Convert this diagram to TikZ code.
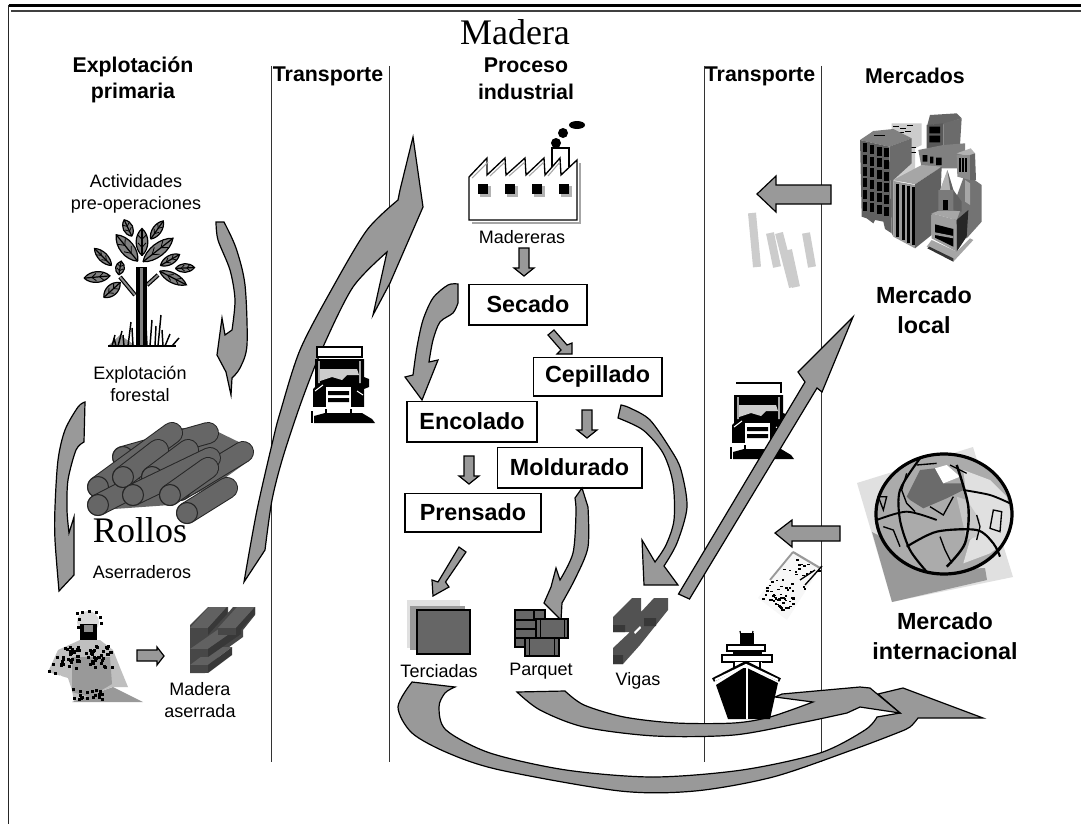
\documentclass[tikz,border=0pt]{standalone}
\usepackage{fontspec}
\setmainfont{Liberation Sans}
\newfontfamily\serifface{Liberation Serif}
\definecolor{arrowgray}{HTML}{999999}
\definecolor{logc}{HTML}{666666}
\tikzset{
  blk/.style={draw=black,fill=arrowgray,line width=0.9pt,line join=miter},
  head/.style={font=\fontsize{16}{20}\selectfont\bfseries,inner sep=0,align=center},
  big/.style={font=\fontsize{17.5}{22}\selectfont\bfseries,inner sep=0,align=center},
  lab/.style={font=\fontsize{13.5}{16.5}\selectfont,inner sep=0,align=center},
  stepbox/.style={draw=black,line width=1pt,fill=white,font=\fontsize{17.5}{21}\selectfont\bfseries,inner sep=0,minimum height=0},
  serifbig/.style={font=\fontsize{27}{30}\serifface\selectfont,inner sep=0},
  rule/.style={draw=black!80,line width=1.1pt}
}
\newcommand\blockdown[2]{\draw[blk] (#1-5,#2-28) -- (#1+5,#2-28) -- (#1+5,#2-8) -- (#1+10,#2-8) -- (#1,#2) -- (#1-10,#2-8) -- (#1-5,#2-8) -- cycle;}
\newcommand\woodlog[4]{%
  \draw[line width=16.5pt,black!85,line cap=round] (#1,#2)--(#3,#4);
  \draw[line width=15pt,logc,line cap=round] (#1,#2)--(#3,#4);
  \draw[black!85,fill=logc,line width=.8pt] (#1,#2) circle[radius=10.5];}
\newcommand\woodbeam[6]{%
  \fill[black!62] (#1,#2) -- (#1+#5,#2-#6) -- (#1+#5+#3,#2-#6) -- (#1+#3,#2) -- cycle;
  \fill[black!72] (#1,#2) rectangle (#1+#3,#2+#4);
  \fill[black!78] (#1+#3,#2) -- (#1+#3+#5,#2-#6) -- (#1+#3+#5,#2-#6+#4) -- (#1+#3,#2+#4) -- cycle;}
\newcommand\treeleaf[5]{%
  \begin{scope}[shift={(#1,#2)},rotate=#3]
  \draw[black,fill=black!50,line width=.9pt] (-#4/2,0) .. controls (-#4/4,-#5*0.65) and (#4/4,-#5*0.65) .. (#4/2,0) .. controls (#4/4,#5*0.65) and (-#4/4,#5*0.65) .. (-#4/2,0);
  \draw[black,line width=.9pt] (-#4/2,0) -- (#4/2,0);
  \draw[black,line width=.6pt] (-#4/5,0) -- (-#4/30,-#5/3) (-#4/5,0) -- (-#4/30,#5/3) (#4/10,0) -- (#4/4,-#5/3) (#4/10,0) -- (#4/4,#5/3);
  \end{scope}}
\newcommand\lorry[2]{%
  \begin{scope}[shift={(#1,#2)}]
  \fill[black] (-2,12) -- (47,12) -- (47,30) -- (52,32) -- (52,40) -- (47,42) -- (47,60) -- (-4,60) -- (-4,42) -- (-2,40) -- cycle;
  \fill[white!80!black] (3,22) -- (40,22) -- (42,28) -- (30,28) -- (25,33) -- (15,30) -- (3,34) -- cycle;
  \draw[white,line width=.8pt] (2,14) -- (2,36) (43,14) -- (43,36) (-2,44) -- (6,38) (40,44) -- (46,48);
  \fill[white] (9,40) rectangle (34,60);
  \fill[black] (11,44) rectangle (32,48) (11,51) rectangle (32,55);
  \fill[white] (-6,60) rectangle (55,67);
  \fill[black] (-3,69) -- (8,66) -- (45,66) -- (55,72) -- (58,76) -- (-3,76) -- cycle;
  \draw[black,line width=.8pt] (-5,64) -- (-5,76) (9,62) -- (9,68) (34,62) -- (34,68);
  \end{scope}}
\begin{document}
\begin{tikzpicture}[x=0.75pt,y=-0.75pt]
\useasboundingbox (0,0) rectangle (1081,824);
\fill[white] (0,0) rectangle (1081,824);
\pgfmathsetseed{11}
% frame
\draw[black,line width=1.6pt] (8.5,5.5) -- (1081,5.5);
\draw[black!75,line width=1.6pt] (11,11) -- (1081,11);
\draw[black!85,line width=1.3pt] (8.5,5) -- (8.5,824);
% column rules
\draw[rule] (271.5,66) -- (271.5,762);
\draw[rule] (389.5,66) -- (389.5,762);
\draw[rule] (704.5,66) -- (704.5,762);
\draw[rule] (821.5,66) -- (821.5,762);
% headings
\node[serifbig] (title) at (515,32) {Madera};
\node[head] (hExp) at (133,80) {Explotación\\primaria};
\node[head] (hT1) at (328,76) {Transporte};
\node[head] (hPro) at (526,79) {Proceso\\industrial};
\node[head] (hT2) at (760,76) {Transporte};
\node[head] (hMer) at (915,76) {Mercados};
\node[lab] (lAct) at (136,194) {Actividades\\pre-operaciones};
\node[lab] (lFor) at (140,384) {Explotación\\forestal};
\node[lab] (lAse) at (142,572) {Aserraderos};
\node[lab] (lMad) at (200,700) {Madera\\aserrada};
\node[lab] (lMar) at (522,237) {Madereras};
\node[lab] (lTer) at (439,671) {Terciadas};
\node[lab] (lPar) at (541,671) {Parquet};
\node[lab] (lVig) at (638,681) {Vigas};
\node[big] (mLoc) at (924,310) {Mercado\\local};
\node[big] (mInt) at (945,636) {Mercado\\internacional};
% tree
\draw[black,line width=3.2pt] (120,277) -- (135,295) (147,285) -- (158,275);
\draw[black!45,line width=1.4pt] (120,277) -- (135,295) (147,285) -- (158,275);
\fill[black] (136,267) rectangle (147,346);
\fill[black!50] (140,268) rectangle (143,345);
\foreach \a/\b/\c/\d/\e in {128/228/115/18/10,157/230/55/22/9,103/257/135/24/9,120/268/80/14/9,97/277/5/26/11,112/290/42/22/11,170/260/30/22/9,185/268/3/19/9,173/278/-27/30/10,142/242/90/27/12,127/248/129/34/14,158/250/38/38/13}
  {\treeleaf{\a}{\b}{\c}{\d}{\e}}
\fill[arrowgray] (108,346) -- (120,335) -- (136,346) -- (150,346) -- (173,346) -- cycle;
\draw[black,line width=1.2pt] (108,346) -- (176,346);
\foreach \a/\b/\c/\d in {112/346/115/335,116/346/114/338,118/346/122/331,124/346/123/335,128/346/131/322,133/346/132/328,150/346/152/320,155/346/156/326,158/346/161/315,163/346/162/330,165/346/170/334,172/346/179/338,147/346/146/325}
  {\draw[black,line width=1.1pt] (\a,\b) -- (\c,\d);}
% left-hand arrows
\draw[blk] (216,222) -- (224,222) -- plot[smooth] coordinates {(224,222) (236,248) (245,285) (247,345) (240,368) (232,378)} -- (231,395) -- (226,372) -- (217,355) -- (222,318) -- (225,335) -- (232,330) -- plot[smooth] coordinates {(232,330) (235,300) (230,270) (218,240) (216,222)} -- cycle;
\draw[blk] (85,402) -- (84,442) -- plot[smooth] coordinates {(84,442) (76,450) (68,480) (67,510) (69,533)} -- (74,517) -- (74,575) -- (59,591) -- plot[smooth] coordinates {(59,591) (55,540) (55,507) (58,460) (65,430) (78,407) (85,402)} -- cycle;
% logs
\fill[logc] (100,480) -- (170,428) -- (210,428) -- (245,445) -- (250,460) -- (215,485) -- (170,505) -- (100,510) -- cycle;
\woodlog{123}{457}{208}{433}
\woodlog{98}{487}{172}{433}
\woodlog{180}{490}{243}{452}
\woodlog{98}{505}{133}{487}
\woodlog{123}{477}{158}{450}
\woodlog{152}{477}{188}{450}
\woodlog{133}{495}{210}{458}
\woodlog{170}{495}{208}{468}
\woodlog{187}{513}{227}{488}
\node[serifbig] (lRol) at (140,530) {Rollos};
% big transport arrow
\draw[blk] (244,582) -- (265,550) -- plot[smooth] coordinates {(265,550) (272,500) (283,457) (302,400) (323,347) (353,287) (387,252)} -- (373,315) -- (390,283) -- (423,207) -- (413,137) -- (400,190) -- (398,200) -- plot[smooth] coordinates {(398,200) (367,230) (333,287) (300,350) (280,413) (273,440) (257,510) (244,582)} -- cycle;
\lorry{317}{347}
\draw[black,fill=white,line width=.9pt] (317,347) rectangle (362,357);
% worker
\fill[black!25] (80,640) -- (100,640) -- (113,650) -- (121,670) -- (128,687) -- (112,687) -- (74,702) -- (72,690) -- (68,678) -- (48,672) -- (58,650) -- cycle;
\fill[white] (60,675) -- (66,680) -- (72,698) -- cycle;
\fill[arrowgray] (72,702) -- (113,687) -- (143,702) -- cycle;
\fill[arrowgray] (72,657) -- (110,657) -- (112,684) -- (90,697) -- (72,692) -- cycle;
\fill[black!15] (88,622) circle[radius=11];
\fill[black] (80,624) rectangle (97,640);
\fill[black!45] (84,625) rectangle (93,632);
\foreach \i in {1,...,70} {\pgfmathsetmacro\ax{60+rnd*52}\pgfmathsetmacro\ay{645+rnd*22}\fill[black] (\ax,\ay) rectangle ++(3,3);}
\foreach \i in {1,...,18} {\pgfmathsetmacro\ax{72+rnd*36}\pgfmathsetmacro\ay{688+rnd*12}\fill[black] (\ax,\ay) rectangle ++(3,3);}
\foreach \a/\b in {48/670,52/663,56/656,54/672,76/612,81/611,88/610,95/611,99/616,78/618,100/622,77/626}
 {\fill[black] (\a,\b) rectangle ++(3,3);}
\draw[blk] (137,650) -- (157,650) -- (157,647) -- (164,656) -- (157,665) -- (157,661) -- (137,661) -- cycle;
% sawn timber
\fill[black!72] (190,625) -- (208,607) -- (228,607) -- (228,613) -- (233,607) -- (255,607) -- (255,615) -- (243,630) -- (243,637) -- (225,650) -- (215,660) -- (205,673) -- (190,673) -- cycle;
\woodbeam{190}{665}{18}{8}{24}{18}
\woodbeam{190}{649}{18}{8}{33}{23}
\woodbeam{190}{628}{18}{7}{19}{21}
\woodbeam{218}{628}{18}{7}{19}{21}
% factory
\begin{scope}[shift={(3,3)}]
\draw[black!35,line width=1.2pt] (577,160) -- (577,220) -- (469,220);
\end{scope}
\draw[black,line width=1pt,fill=white] (552,172) -- (552,148) -- (569,148) -- (569,167);
\draw[black,line width=1pt,fill=white] (469,220) -- (469,177) -- (487,158) -- (487,175) -- (505,158) -- (506,175) -- (525,158) -- (526,175) -- (544,158) -- (545,175) -- (560,158) -- (561,175) -- (577,160) -- (577,220) -- cycle;
\draw[black!35,line width=.8pt] (472,178) -- (488,162) (490,176) -- (505,162) (509,176) -- (525,162) (529,176) -- (544,162) (548,176) -- (560,162);
\foreach \x in {483,510,537,564} {\fill[black!30] (\x-3,186) rectangle (\x+8,197); \fill[black] (\x-5,184) rectangle (\x+5,194);}
\fill[black] (556,143) circle[radius=5] (563,133) circle[radius=5];
\fill[black] (577,125) ellipse[x radius=8,y radius=4];
\blockdown{524}{276}
% process boxes
\node[stepbox,minimum width=88.5pt,minimum height=30.5pt] (secado) at (528,304.5) {Secado};
\node[stepbox,minimum width=96.5pt,minimum height=29pt] (cepillado) at (597.5,376.5) {Cepillado};
\node[stepbox,minimum width=97.5pt,minimum height=30.5pt] (encolado) at (472,421.5) {Encolado};
\node[stepbox,minimum width=108.5pt,minimum height=30.5pt] (moldurado) at (569.5,467.5) {Moldurado};
\node[stepbox,minimum width=102pt,minimum height=29pt] (prensado) at (473,512.5) {Prensado};
% process arrows
\draw[blk] (548,335) -- (554,330) -- (567,345) -- (572,343) -- (572,354) -- (557,354) -- (561,350) -- cycle;
\draw[blk] (458,284) -- (458,303) -- plot[smooth] coordinates {(458,303) (453,313) (440,322) (433,340) (429,362)} -- (438,360) -- (422,400) -- (405,377) -- (413,375) -- plot[smooth] coordinates {(413,375) (417,347) (423,320) (433,298) (448,285) (458,284)} -- cycle;
\blockdown{587}{438}
\blockdown{469}{484}
\draw[blk] (621,405) -- (618,418) -- plot[smooth] coordinates {(618,418) (643,430) (663,453) (673,483) (674,520) (666,545) (655,562)} -- (642,540) -- (644,585) -- (678,585) -- (664,566) -- plot[smooth] coordinates {(664,566) (677,543) (687,507) (681,470) (671,450) (650,420) (630,408) (621,405)} -- cycle;
\draw[blk] (582,488) -- (588,507) -- plot[smooth] coordinates {(588,507) (588,547) (576,577) (562,603)} -- (561,620) -- (544,603) -- (551,587) -- (556,568) -- (560,580) -- plot[smooth] coordinates {(560,580) (573,553) (576,513) (575,498)} -- cycle;
\draw[blk] (459,547) -- (466,552) -- (445.5,582) -- (449,587) -- (433,596) -- (432,580) -- (438,582) -- cycle;
% product icons
\fill[black!12] (407,600) rectangle (460,648);
\fill[black!40] (410,606) rectangle (465,650);
\draw[black,fill=logc,line width=1pt] (417,610) rectangle (470,654);
\draw[black,fill=logc,line width=1pt] (515,610) rectangle (545,647);
\draw[black,line width=.8pt] (515,620) -- (545,620) (515,629) -- (536,629) (515,638) -- (525,638) (534,610) -- (534,620);
\draw[black,fill=logc,line width=1pt] (536,619) rectangle (568,638);
\draw[black,line width=.7pt] (564,619) -- (564,638) (540,619) -- (540,638);
\draw[black,fill=logc,line width=1pt] (525,638) rectangle (559,656);
\draw[black,line width=.7pt] (529,638) -- (529,656) (554,638) -- (554,656);
% beams
\fill[black!68] (613,617) -- (632,598) -- (641,598) -- (641,612) -- (654,598) -- (668,598) -- (668,610) -- (656,625) -- (640,645) -- (623,664) -- (613,664) -- (613,648) -- (630,632) -- (613,632) -- cycle;
\fill[black!78] (613,625) rectangle (625,632) (613,655) rectangle (623,664) (644,618) rectangle (656,626);
\fill[white] (634,632) -- (640,626) -- (641,628) -- (635,634) -- cycle;
% faded trucks near local market
\draw[black!20,line width=6pt] (752,213) -- (757,267) (770,233) -- (777,267) (779,233) -- (793,287) (788,250) -- (796,287) (806,233) -- (812,267);
% truck to local market
\lorry{736}{383}
\draw[black,line width=.9pt] (736,383) -- (781,383) -- (781,393);
\draw[blk] (853,317) -- (822,392) -- (817,388) -- (689.5,599) -- (678.5,594) -- (805,382) -- (798,372) -- cycle;
\draw[blk] (757,194) -- (776,176) -- (776,185) -- (831,185) -- (831,204) -- (776,204) -- (776,212) -- cycle;
\draw[blk] (775,533) -- (792,520) -- (792,526) -- (840,526) -- (840,541) -- (792,541) -- (792,547) -- cycle;
% buildings
\begin{scope}[shift={(850,105)},x=0.25pt,y=-0.25pt]
\fill[black!20] (125,55) -- (215,55) -- (215,120) -- (195,130) -- (195,230) -- (125,230) -- cycle;
\foreach \a/\b in {130/62,150/68,170/60,145/80,180/125,180/140,165/78} {\fill[black] (\a,\b) rectangle ++(18,4);}
\fill[black!60] (240,30) -- (320,25) -- (335,40) -- (280,58) -- (232,60) -- cycle;
\fill[black!65] (230,60) -- (280,55) -- (280,125) -- (230,130) -- cycle;
\fill[black] (238,65) rectangle (270,85) (238,92) rectangle (270,112);
\fill[black!58] (280,55) -- (335,40) -- (330,120) -- (280,155) -- cycle;
\fill[black!50] (205,135) -- (280,120) -- (345,115) -- (345,190) -- (215,190) -- cycle;
\fill[black] (218,150) rectangle (232,170) (240,155) rectangle (250,175) (258,158) rectangle (275,180);
% right mass
\fill[black!55] (345,205) -- (395,240) -- (395,350) -- (350,400) -- (300,330) -- cycle;
\fill[black!35] (345,225) -- (360,235) -- (360,300) -- (345,290) -- cycle;
\fill[black!30] (320,145) -- (362,130) -- (375,145) -- (360,155) -- cycle;
\fill[black!45] (320,150) -- (360,150) -- (360,225) -- (322,215) -- cycle;
\fill[black!60] (360,150) -- (375,145) -- (378,225) -- (360,225) -- cycle;
\foreach \x in {326,336,346} {\fill[black] (\x,158) rectangle (\x+6,200);}
% left tower
\fill[black!50] (30,105) -- (70,78) -- (130,72) -- (185,100) -- (118,125) -- cycle;
\fill[black] (72,90) rectangle (105,94);
\fill[black!62] (30,105) -- (118,125) -- (125,385) -- (105,372) -- (100,350) -- (75,345) -- (70,355) -- (50,340) -- (35,335) -- cycle;
\fill[black!58] (118,125) -- (185,100) -- (185,175) -- (130,225) -- (130,395) -- (125,385) -- cycle;
\foreach \x/\s in {38/0,60/5,82/10,103/15} \foreach \y in {115,150,185,220,255,290} {\fill[black] (\x,\y+\s) rectangle (\x+13,\y+\s+27);}
% centre block
\fill[black!35] (130,225) -- (215,180) -- (275,185) -- (195,238) -- cycle;
\fill[black!40] (130,228) -- (195,240) -- (195,430) -- (130,395) -- cycle;
\fill[black!62] (195,238) -- (275,185) -- (270,315) -- (245,330) -- (245,390) -- (195,430) -- cycle;
\foreach \x/\t/\b in {137/237/395,155/240/405,172/243/413,186/245/420} {\fill[black] (\x,\t) rectangle (\x+9,\b);}
% church
\fill[black!35] (230,425) -- (245,405) -- (320,440) -- (360,400) -- (370,405) -- (310,470) -- cycle;
\fill[black!80] (232,430) -- (310,470) -- (310,460) -- (238,425) -- cycle;
\fill[black!30] (292,195) -- (270,255) -- (310,255) -- cycle;
\fill[black!62] (292,195) -- (310,255) -- (335,290) -- (335,320) -- (310,315) -- cycle;
\fill[black!52] (265,255) -- (310,255) -- (310,320) -- (265,322) -- cycle;
\fill[black] (280,285) rectangle (295,315);
\fill[black!35] (245,325) -- (265,318) -- (330,318) -- (320,345) -- cycle;
\fill[black!38] (245,325) -- (320,345) -- (320,440) -- (245,400) -- cycle;
\fill[black] (255,358) -- (310,372) -- (310,425) -- (255,398) -- cycle;
\fill[black!40] (255,382) -- (310,393) -- (310,400) -- (255,390) -- cycle;
\fill[black!85] (320,345) -- (355,315) -- (350,395) -- (320,440) -- cycle;
\end{scope}
% globe
\fill[black!12] (857,483) -- (973,447) -- (1013,577) -- (892,602) -- cycle;
\fill[black!40] (872,532) -- (945,570) -- (985,568) -- (987,580) -- (892,602) -- cycle;
\begin{scope}[shift={(750,440)},x=0.25pt,y=-0.25pt]
\fill[black!33] (582,222) ellipse[x radius=207,y radius=183];
\fill[black!12] (640,90) -- (720,120) -- (770,170) -- (790,250) -- (760,310) -- (720,340) -- (640,370) -- (660,300) -- (680,280) -- (650,180) -- cycle;
\fill[black!22] (620,170) -- (650,180) -- (690,240) -- (680,290) -- (650,300) -- cycle;
\fill[black!58] (470,170) -- (510,90) -- (555,85) -- (580,130) -- (640,130) -- (640,150) -- (590,175) -- (520,205) -- (480,180) -- cycle;
\fill[white] (555,85) -- (590,75) -- (630,110) -- (580,130) -- cycle;
\draw[black,line width=2.4pt] (582,222) ellipse[x radius=204,y radius=180];
\draw[black,line width=1.6pt] plot[smooth] coordinates {(510,55) (450,150) (450,240) (480,330) (530,395)};
\draw[black,line width=1.8pt] plot[smooth] coordinates {(620,75) (655,200) (645,310) (590,380)};
\draw[black,line width=1.4pt] plot[smooth] coordinates {(380,240) (470,215) (560,240)};
\draw[black,line width=1.6pt] plot[smooth] coordinates {(470,320) (560,275) (680,270) (730,310) (750,350)};
\draw[black,line width=1.4pt] plot[smooth] coordinates {(640,150) (720,165) (780,190)};
\draw[black,line width=1pt] (385,170) -- (410,170) -- (400,210) -- cycle (400,260) -- (430,270) -- (450,320) (570,290) -- (585,330) -- (605,370) (680,225) -- (690,260) -- (680,300) (730,210) -- (755,215) -- (750,275) -- (720,265) -- cycle (540,200) -- (580,225) -- (610,170) (470,100) -- (455,150) -- (470,190) -- (495,215) (500,75) -- (560,70) (600,75) -- (650,100) (590,270) -- (640,268);
\end{scope}
% document
\fill[black!3] (793,552) -- (820,568) -- (787,620) -- (758,598) -- cycle;
\draw[black!40,line width=1.6pt] (793,552) -- (820,568);
\draw[black!40,line width=1.4pt] (793,552) -- (770,580);
\foreach \i in {1,...,36} {\pgfmathsetmacro\u{rnd}\pgfmathsetmacro\v{rnd}\fill[black] ({793+27*\u-35*\v},{552+16*\u+46*\v}) rectangle ++(2.5,1.6);}
\foreach \i in {1,...,30} {\pgfmathsetmacro\u{rnd}\pgfmathsetmacro\v{0.7+0.3*rnd}\fill[black] ({793+27*\u-35*\v},{552+16*\u+46*\v}) rectangle ++(2.5,1.8);}
\draw[black,line width=1pt] (805,585) -- (822,566) (800,580) -- (815,570);
% bottom sweeping arrows
\draw[blk] (455,687) -- (412,682) -- plot[smooth] coordinates {(412,682) (398,707) (412,733) (448,753) (500,770) (620,791) (695,791) (773,777) (852,750) (897,733) (910,727) (918,718)} -- (983,718) -- (903,688) -- (878,694) -- (900,713) -- (877,717) -- plot[smooth] coordinates {(877,717) (865,730) (820,753) (742,770) (653,777) (566,770) (490,753) (446,730) (439,707) (445,693) (455,687)} -- cycle;
\draw[blk] (517,692) -- (565,691) -- plot[smooth] coordinates {(565,691) (584,705) (624,717) (676,723) (734,723) (770,717) (813,702)} -- (775,697) -- (782,694) -- (860,687) -- (870,688) -- (900,713) -- (860,707) -- (847,713) -- plot[smooth] coordinates {(847,713) (800,723) (734,735) (655,736) (584,727) (540,710) (517,692)} -- cycle;
% ship
\fill[black] (745,667) -- (778,683) -- (770,719) -- (728,719) -- (716,685) -- cycle;
\draw[white,line width=1.8pt] (747,667) -- (747,719);
\fill[black] (733,652) rectangle (762,656);
\draw[black,line width=1.2pt,fill=white] (722,655) rectangle (772,662);
\draw[black,line width=1.2pt,fill=white] (727,645) rectangle (765,651);
\fill[black] (740,633) rectangle (754,645);
\draw[black,line width=.9pt] (740,631) arc[start angle=180,end angle=0,radius=6.5];
\fill[white] (733,662) rectangle (762,668);
\draw[black,line width=1pt] (734,662) -- (734,669) (760,662) -- (760,669);
\draw[black,line width=3pt] (713,680) -- (746,663) -- (780,680);
\draw[white,line width=1.6pt] (715,680) -- (746,665) -- (778,680);
\end{tikzpicture}
\end{document}
